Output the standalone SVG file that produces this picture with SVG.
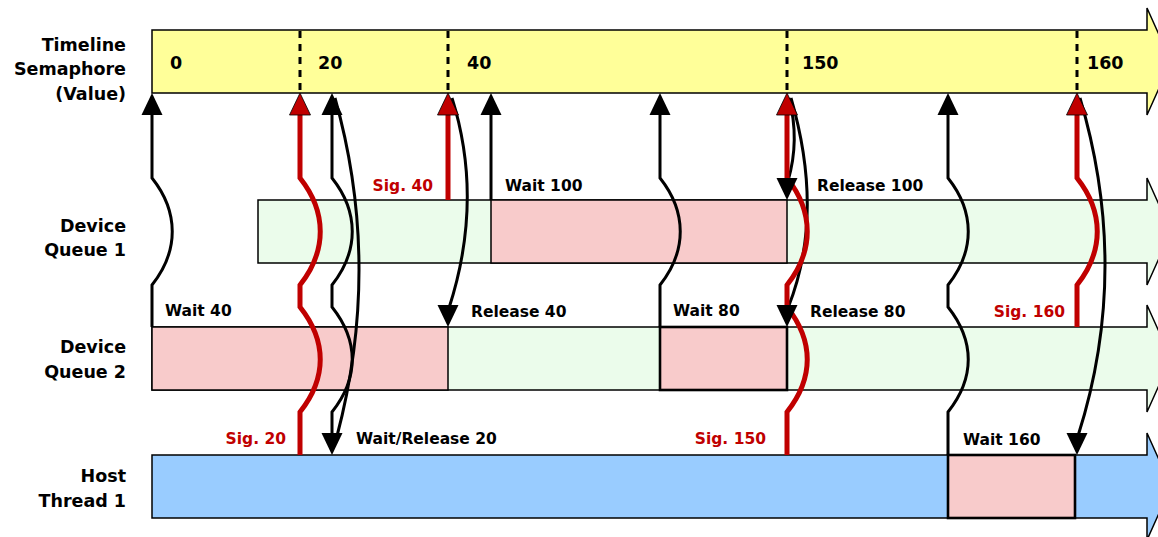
<svg xmlns="http://www.w3.org/2000/svg" xmlns:xlink="http://www.w3.org/1999/xlink" width="1158" height="537" viewBox="0 0 1158 537">
<style>
.lane{stroke:#000;stroke-width:1.5}
.yel{fill:#FFFF99}
.grn{fill:#EBFCEB}
.pnk{fill:#F8CBCB}
.blu{fill:#99CCFF}
.thick{stroke:#000;stroke-width:2.6}
.dash{stroke:#000;stroke-width:3;stroke-dasharray:7 6;fill:none}
.bl{fill:none;stroke:#000;stroke-width:3}
.rd{fill:none;stroke:#C00000;stroke-width:5}
.ahb{fill:#000}
.ahr{fill:#C00000;stroke:#000;stroke-width:0.8}
.name{font-family:"DejaVu Sans",Verdana,sans-serif;font-weight:bold;font-size:17.5px;text-anchor:end;fill:#000}
.num{font-family:"DejaVu Sans",Verdana,sans-serif;font-weight:bold;font-size:17.5px;fill:#000}
.t{font-family:"DejaVu Sans",Verdana,sans-serif;font-weight:bold;font-size:15.5px;fill:#000}
.tr{fill:#C00000}
.end{text-anchor:end}
</style>
<defs>
<path id="up" d="M0,0 L10.5,22 L-10.5,22 Z"/>
<path id="down" d="M0,0 L10.5,-22 L-10.5,-22 Z"/>
</defs>
<rect width="1158" height="537" fill="#fff"/>

<g id="timeline">
<path class="lane yel" d="M152,30 H1147 V8 L1171,61.5 L1147,115 V93 H152 Z"/>
<line class="dash" x1="300" y1="31" x2="300" y2="93"/>
<line class="dash" x1="448" y1="31" x2="448" y2="93"/>
<line class="dash" x1="787" y1="31" x2="787" y2="93"/>
<line class="dash" x1="1077" y1="31" x2="1077" y2="93"/>
<text class="num" x="170" y="69">0</text>
<text class="num" x="318" y="69">20</text>
<text class="num" x="467" y="69">40</text>
<text class="num" x="802" y="69">150</text>
<text class="num" x="1087" y="69">160</text>
<text class="name" x="126" y="51">Timeline</text>
<text class="name" x="126" y="75">Semaphore</text>
<text class="name" x="126" y="100">(Value)</text>
</g>

<g id="queue1">
<path class="lane grn" d="M258,200 H1147 V178 L1171,231.5 L1147,285 V263 H258 Z"/>
<rect class="lane pnk" x="491" y="200" width="296" height="63"/>
<text class="name" x="126" y="232">Device</text>
<text class="name" x="126" y="256">Queue 1</text>
</g>

<g id="queue2">
<path class="lane grn" d="M152,327 H1147 V305 L1171,358.5 L1147,412 V390 H152 Z"/>
<rect class="lane pnk" x="152" y="327" width="296" height="63"/>
<rect class="pnk thick" x="660" y="327" width="127" height="63"/>
<text class="name" x="126" y="353">Device</text>
<text class="name" x="126" y="378">Queue 2</text>
</g>

<g id="host">
<path class="lane blu" d="M152,455 H1147 V433 L1171,486.5 L1147,540 V518 H152 Z"/>
<rect class="pnk thick" x="948" y="455" width="127" height="63"/>
<text class="name" x="126" y="482">Host</text>
<text class="name" x="126" y="507">Thread 1</text>
</g>

<g id="connectors">
<!-- release arcs -->
<path class="bl" d="M335,98 Q382,265 337,436"/>
<path class="bl" d="M452,98 Q484,200 449,308"/>
<path class="bl" d="M789,98 Q800,140 788,181"/>
<path class="bl" d="M791,98 Q825,215 788,308"/>
<path class="bl" d="M1080,98 Q1131,270 1078,436"/>
<!-- wait lines (black) -->
<path class="bl" d="M152,327 V285 C179,251 179,212 152,178 V108"/>
<path class="bl" d="M332,436 V412 C359,378 359,341 332,307 V285 C359,251 359,212 332,178 V108"/>
<path class="bl" d="M491,200 V108"/>
<path class="bl" d="M660,327 V285 C687,251 687,212 660,178 V108"/>
<path class="bl" d="M948,455 V412 C975,378 975,341 948,307 V285 C975,251 975,212 948,178 V108"/>
<!-- signal lines (red) -->
<path class="rd" d="M300,455 V412 C327,378 327,341 300,307 V285 C327,251 327,212 300,178 V108"/>
<path class="rd" d="M448,200 V108"/>
<path class="rd" d="M787,455 V412 C814,378 814,341 787,307 V285 C814,251 814,212 787,178 V108"/>
<path class="rd" d="M1077,327 V285 C1104,251 1104,212 1077,178 V108"/>
<!-- arrowheads -->
<use xlink:href="#up" class="ahb" x="152" y="93"/>
<use xlink:href="#up" class="ahb" x="332" y="93"/>
<use xlink:href="#up" class="ahb" x="491" y="93"/>
<use xlink:href="#up" class="ahb" x="660" y="93"/>
<use xlink:href="#up" class="ahb" x="948" y="93"/>
<use xlink:href="#up" class="ahr" x="300" y="93"/>
<use xlink:href="#up" class="ahr" x="448" y="93"/>
<use xlink:href="#up" class="ahr" x="787" y="93"/>
<use xlink:href="#up" class="ahr" x="1077" y="93"/>
<use xlink:href="#down" class="ahb" x="332" y="455"/>
<use xlink:href="#down" class="ahb" x="448" y="327"/>
<use xlink:href="#down" class="ahb" x="787" y="200"/>
<use xlink:href="#down" class="ahb" x="787" y="327"/>
<use xlink:href="#down" class="ahb" x="1077" y="455"/>
</g>

<g id="labels">
<text class="t tr end" x="433" y="191">Sig. 40</text>
<text class="t" x="505" y="191">Wait 100</text>
<text class="t" x="817" y="191">Release 100</text>
<text class="t" x="165" y="316">Wait 40</text>
<text class="t" x="471" y="317">Release 40</text>
<text class="t" x="673" y="316">Wait 80</text>
<text class="t" x="810" y="317">Release 80</text>
<text class="t tr end" x="1065" y="317">Sig. 160</text>
<text class="t tr end" x="286" y="444">Sig. 20</text>
<text class="t" x="356" y="444">Wait/Release 20</text>
<text class="t tr end" x="766" y="444">Sig. 150</text>
<text class="t" x="963" y="445">Wait 160</text>
</g>
</svg>
